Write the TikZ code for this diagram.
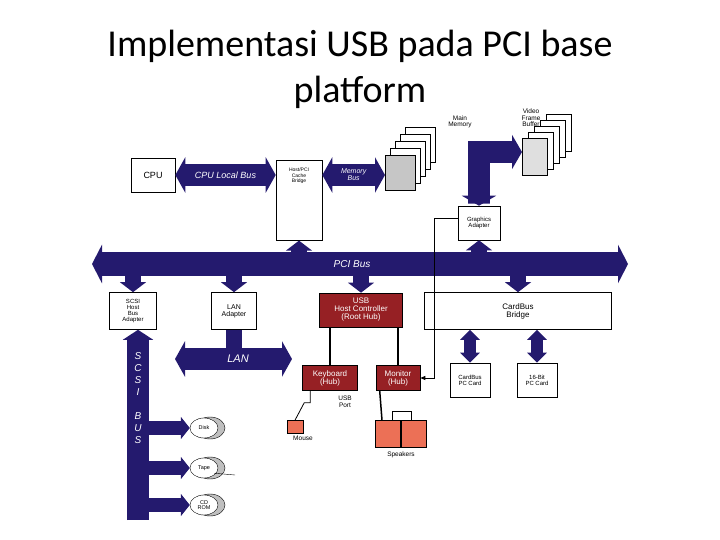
\documentclass[tikz,border=0pt]{standalone}
\usepackage{fontspec}
\setmainfont{Carlito}
\newfontfamily\sansf{Liberation Sans}
\usetikzlibrary{arrows.meta,shapes.geometric}
\definecolor{navy}{RGB}{36,26,110}
\definecolor{usbred}{RGB}{150,32,36}
\definecolor{spk}{RGB}{236,112,86}
\begin{document}
\begin{tikzpicture}[x=1pt,y=-1pt,
  box/.style={draw=black,fill=white,line width=0.6pt,align=center,font=\sansf\fontsize{6}{6}\selectfont,inner sep=0pt},
  rbox/.style={box,fill=usbred,text=white,font=\sansf\fontsize{8}{8}\selectfont},
  bus/.style={navy,line width=#1,-{Triangle[length=10pt,width=1.6*#1]}},
  dbus/.style={navy,line width=#1,{Triangle[length=10pt,width=1.6*#1]}-{Triangle[length=10pt,width=1.6*#1]}},
  lbl/.style={font=\sansf\fontsize{6.5}{6.5}\selectfont,align=center,inner sep=0pt},
  wlbl/.style={font=\sansf\itshape\fontsize{9}{9}\selectfont,text=white,inner sep=0pt},
  wire/.style={line width=1.5pt}]
\useasboundingbox (0,0) rectangle (720,540);
\node[font=\fontsize{38}{38}\selectfont] (t1) at (360,46) {Implementasi USB pada PCI base};
\node[font=\fontsize{38}{38}\selectfont] (t2) at (360,92) {platform};
% top row
\node[box,minimum width=44,minimum height=34,font=\sansf\fontsize{9}{9}\selectfont] (cpu) at (153,175) {CPU};
\node[box,minimum width=46,minimum height=80,anchor=north] (bridge) at (299,160) {};
\node[lbl,font=\sansf\fontsize{5}{5.5}\selectfont] (bt) at (299,176) {Host/PCI\\Cache\\Bridge};
\draw[dbus=22pt] (cpu.east) -- (bridge.west|-cpu.east) node[midway,wlbl] {CPU Local Bus};
% memory stack
\foreach \i in {4,3,2,1}{\draw[fill=white] (385+5*\i,155-7*\i) rectangle (415+5*\i,190-7*\i);}
\node[box,fill=gray!45,minimum width=30,minimum height=35,anchor=north west] (mem) at (385,155) {};
\node[lbl] (meml) at (460,122) {Main\\Memory};
\draw[dbus=22pt] (bridge.east|-cpu.east) -- (mem.west|-cpu.east) node[midway,wlbl,font=\sansf\itshape\fontsize{7}{7}\selectfont,align=center] {Memory\\Bus};
% video frame buffer
\foreach \i in {4,3,2,1}{\draw[fill=white] (522+6*\i,138-6*\i) rectangle (547+6*\i,175-6*\i);}
\node[box,fill=gray!25,minimum width=25,minimum height=37,anchor=north west] (vfb) at (522,138) {};
\node[lbl] (vfbl) at (531,118) {Video\\Frame\\Buffer};
\node[box,minimum width=42,minimum height=34] (gfx) at (479,223) {Graphics\\Adapter};
\coordinate (corner) at (482,152);
\draw[navy,line width=22pt,{Triangle[length=10pt,width=34pt]}-{Triangle[length=10pt,width=34pt]}] (gfx.north) -- ++(0,-2) |- (vfb.west|-corner);
% PCI bus
\coordinate (pl) at (92,264); \coordinate (pr) at (628,264);
\draw[dbus=24pt] (pl) -- (pr);
\draw[bus=16pt] (bridge.south|-pl) -- (bridge.south);
\draw[bus=16pt] (gfx.south|-pl) -- (gfx.south);
% PCI devices
\node[box,minimum width=47,minimum height=37] (scsi) at (133,311) {SCSI\\Host\\Bus\\Adapter};
\node[box,minimum width=45,minimum height=37,font=\sansf\fontsize{7}{7}\selectfont] (lan) at (234,311) {LAN\\Adapter};
\node[rbox,minimum width=83,minimum height=34] (usb) at (361,310) {USB\\Host Controller\\(Root Hub)};
\node[box,minimum width=187,minimum height=37,font=\sansf\fontsize{8}{8}\selectfont] (cb) at (518,311) {CardBus\\Bridge};
\draw[bus=16pt] (scsi.north|-pl) -- (scsi.north);
\draw[bus=16pt] (lan.north|-pl) -- (lan.north);
\draw[bus=16pt] (usb.north|-pl) -- (usb.north);
\draw[bus=16pt] (cb.north|-pl) -- (cb.north);
\node[wlbl,font=\sansf\itshape\fontsize{10}{10}\selectfont] (pcil) at (352,264) {PCI Bus};
% SCSI bus
\coordinate (sb) at (138,520);
\draw[navy,line width=22pt,-{Triangle[length=10pt,width=30pt]}] (sb) -- (scsi.south-|sb);
\foreach \n/\y/\t in {disk/428/Disk,tape/468/Tape,cd/505/CD\\ROM}{
  \draw[fill=gray!50] (210,\y) ellipse (15 and 11);
  \node[draw,fill=white,ellipse,minimum width=28,minimum height=20,inner sep=0pt,lbl,font=\sansf\fontsize{5.5}{5.5}\selectfont] (\n) at (204,\y) {\t};
  \draw[navy,line width=14pt,-{Triangle[length=9pt,width=22pt]}] (148,\y) -- (\n.west);
}
\node[wlbl,font=\sansf\itshape\fontsize{10}{12}\selectfont,align=center] (sl) at (138,398) {S\\C\\S\\I\\\\B\\U\\S};
\coordinate (tapeend) at (235,475);
\draw (tape.south east) ++(0,-2) -- (tapeend);
% LAN
\coordinate (ll) at (175,359); \coordinate (lr) at (292,359);
\draw[dbus=22pt] (ll) -- (lr);
\draw[navy,line width=16pt] (lan.south) -- (lan.south|-ll);
\node[wlbl,font=\sansf\itshape\fontsize{11}{11}\selectfont] (lanl) at (238,359) {LAN};
% CardBus cards
\node[box,minimum width=40,minimum height=34] (pc1) at (470,380) {CardBus\\PC Card};
\node[box,minimum width=40,minimum height=34] (pc2) at (537,380) {16-Bit\\PC Card};
\draw[dbus=12pt] (cb.south-|pc1) -- (pc1.north);
\draw[dbus=12pt] (cb.south-|pc2) -- (pc2.north);
% hubs
\node[rbox,minimum width=55,minimum height=25] (kb) at (330,378) {Keyboard\\(Hub)};
\node[rbox,minimum width=44,minimum height=25] (mon) at (398,378) {Monitor\\(Hub)};
\draw[wire] (usb.south-|kb) -- (kb.north);
\draw[wire] (usb.south-|mon) -- (mon.north);
\node[lbl] (port) at (345,402) {USB\\Port};
\node[box,fill=spk,minimum width=16,minimum height=13] (mouse) at (295,427) {};
\node[lbl] (mousel) at (303,438) {Mouse};
\draw[line width=0.8pt] (kb.south west) ++(8,0) |- ++(-6,12) -- (mouse.north);
\node[box,fill=spk,minimum width=25,minimum height=27] (s1) at (388,434) {};
\node[box,fill=spk,minimum width=25,minimum height=27] (s2) at (414,434) {};
\node[lbl] (spl) at (401,455) {Speakers};
\draw[wire] (mon.south west) ++(4,0) -- (s1.north west-|382,0);
\draw[line width=0.8pt] (392,420) |- (411,411) -- (411,420);
\coordinate (g1) at (434,218);
\draw[line width=0.8pt,-{Triangle[length=5pt,width=4pt]}] (gfx.west|-g1) -- (g1) |- (mon.east);
\end{tikzpicture}
\end{document}
